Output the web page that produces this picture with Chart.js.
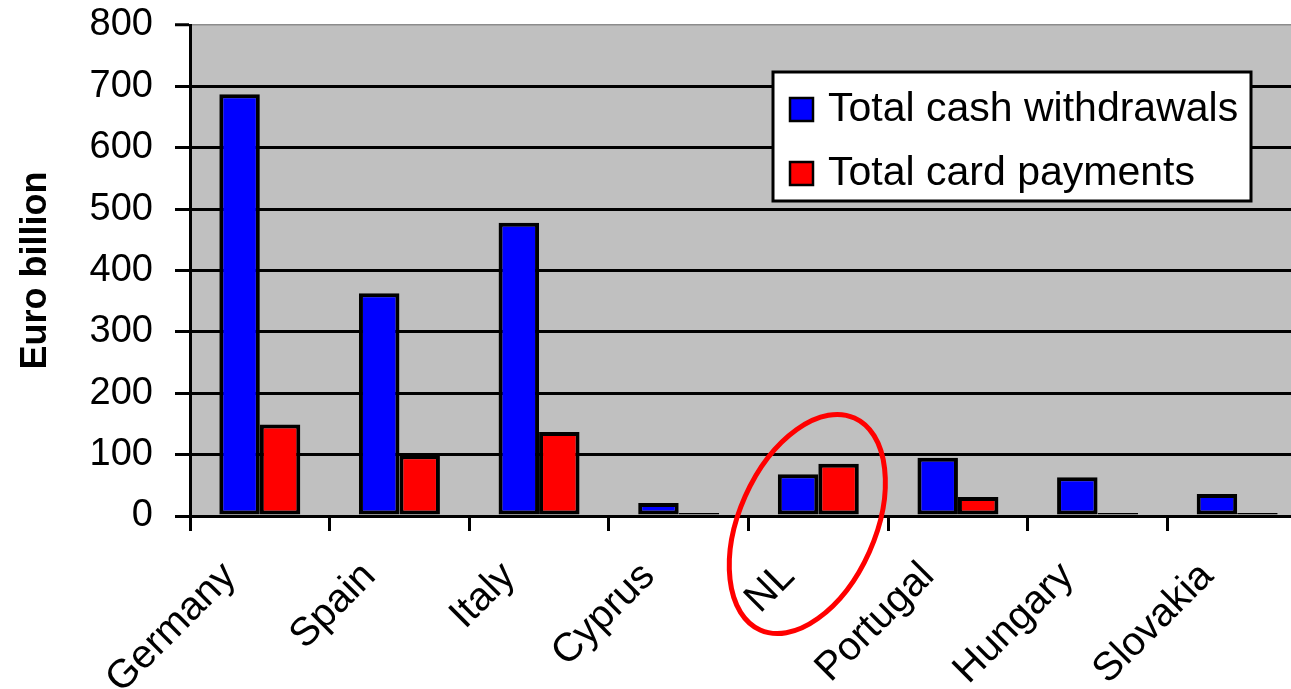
<!DOCTYPE html>
<html>
<head>
<meta charset="utf-8">
<script src="https://cdn.jsdelivr.net/npm/chart.js@4/dist/chart.umd.min.js"></script>
<style>
  html, body { margin: 0; padding: 0; background: #fff; overflow: hidden; }
  #wrap { width: 1310px; height: 689px; }
</style>
</head>
<body>
<div id="wrap"><canvas id="c" width="1310" height="689"></canvas></div>
<script>
// Countries along the category axis
const countries = ['Germany', 'Spain', 'Italy', 'Cyprus', 'NL', 'Portugal', 'Hungary', 'Slovakia'];
// Values in euro billion
const cashWithdrawals = [687, 363, 478, 21, 68, 95, 63, 36];
const cardPayments = [149, 99, 137, 5, 85, 31, 5, 5];
// Value axis
const yTicks = [0, 100, 200, 300, 400, 500, 600, 700, 800];
const seriesNames = ['Total cash withdrawals', 'Total card payments'];
const highlighted = 'NL';

const FONT = "'Liberation Sans', Arial, sans-serif";

// Grey plot background
const plotBackground = {
  id: 'plotBackground',
  beforeDraw(chart) {
    const { ctx, chartArea: a } = chart;
    ctx.save();
    ctx.fillStyle = '#c0c0c0';
    ctx.fillRect(a.left, a.top, a.right - a.left, a.bottom - a.top);
    ctx.restore();
  }
};

// Boxed legend sitting inside the plot area
const boxedLegend = {
  id: 'boxedLegend',
  afterDraw(chart) {
    const { ctx } = chart;
    const x = 773, y = 72, w = 478, h = 129;
    ctx.save();
    ctx.fillStyle = '#fff';
    ctx.fillRect(x, y, w, h);
    ctx.lineWidth = 3;
    ctx.strokeStyle = '#000';
    ctx.strokeRect(x, y, w, h);
    ctx.font = '41px ' + FONT;
    ctx.textBaseline = 'middle';
    chart.data.datasets.forEach((ds, i) => {
      const cy = y + 37 + i * 64;
      ctx.fillStyle = ds.backgroundColor;
      ctx.fillRect(790, cy - 11, 23, 23);
      ctx.lineWidth = 2.5;
      ctx.strokeRect(790, cy - 11, 23, 23);
      ctx.fillStyle = '#000';
      ctx.fillText(ds.label, 828, cy + 1);
    });
    ctx.restore();
  }
};

// Red ring drawn around the highlighted country
const highlightRing = {
  id: 'highlightRing',
  afterDraw(chart) {
    const { ctx } = chart;
    const xs = chart.scales.x, ys = chart.scales.y;
    const cx = xs.getPixelForValue(countries.indexOf(highlighted)) - 11;
    const cy = ys.getPixelForValue(0) + 8;
    ctx.save();
    ctx.beginPath();
    ctx.ellipse(cx, cy, 68, 116, 24 * Math.PI / 180, 0, Math.PI * 2);
    ctx.lineWidth = 5;
    ctx.strokeStyle = '#ff0000';
    ctx.stroke();
    ctx.restore();
  }
};

new Chart(document.getElementById('c'), {
  type: 'bar',
  data: {
    labels: countries,
    datasets: [
      {
        label: seriesNames[0],
        data: cashWithdrawals,
        backgroundColor: '#0000ff',
        borderColor: '#000',
        borderWidth: 4,
        borderSkipped: false
      },
      {
        label: seriesNames[1],
        data: cardPayments,
        backgroundColor: '#ff0000',
        borderColor: '#000',
        borderWidth: 4,
        borderSkipped: false
      }
    ]
  },
  options: {
    responsive: false,
    animation: false,
    devicePixelRatio: 1,
    layout: { padding: { top: 25, right: 3, left: 0, bottom: 0 } },
    datasets: { bar: { categoryPercentage: 0.58, barPercentage: 1.0 } },
    plugins: {
      legend: { display: false },
      tooltip: { enabled: false }
    },
    scales: {
      x: {
        offset: true,
        grid: {
          display: true,
          offset: true,
          drawOnChartArea: false,
          drawTicks: true,
          tickLength: 15,
          tickWidth: 3,
          tickColor: '#000'
        },
        border: { display: true, color: '#000', width: 3 },
        ticks: {
          color: '#000',
          font: { family: FONT, size: 40 },
          minRotation: 45,
          maxRotation: 45,
          padding: 22,
          labelOffset: -30
        },
        afterFit(scale) {
          scale.height = 689 - 516;
          scale.paddingLeft = 0;
          scale.paddingRight = 0;
        }
      },
      y: {
        min: 0,
        max: 800,
        afterBuildTicks(scale) { scale.ticks = yTicks.map(v => ({ value: v })); },
        grid: {
          color: ctx => (ctx.tick && ctx.tick.value === 800 ? '#8c8c8c' : '#000'),
          lineWidth: ctx => (ctx.tick && ctx.tick.value === 800 ? 1.5 : 3),
          tickColor: '#000',
          tickWidth: 3,
          tickLength: 15,
          drawTicks: true
        },
        border: { display: true, color: '#000', width: 3 },
        ticks: {
          color: '#000',
          font: { family: FONT, size: 38 },
          padding: 22
        },
        title: {
          display: true,
          text: 'Euro billion',
          color: '#000',
          font: { family: FONT, size: 36, weight: 'bold' },
          padding: { top: 14, bottom: 0 }
        },
        afterFit(scale) {
          scale.width = 190;
          scale.paddingTop = 0;
          scale.paddingBottom = 0;
        }
      }
    }
  },
  plugins: [plotBackground, boxedLegend, highlightRing]
});
</script>
</body>
</html>
